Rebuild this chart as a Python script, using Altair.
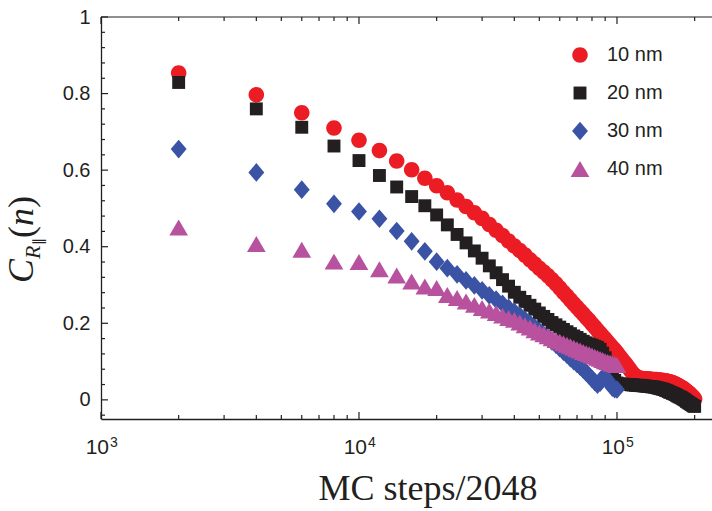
import altair as alt
import pandas as pd

# ---------------- data ----------------
steps = list(range(2000, 200001, 2000))          # MC steps/2048 sample grid

c10 = [0.854, 0.797, 0.750, 0.710, 0.678, 0.651, 0.624, 0.601, 0.579, 0.559,
       0.541, 0.522, 0.505, 0.489, 0.474, 0.458, 0.443, 0.429, 0.415, 0.402,
       0.390, 0.378, 0.366, 0.355, 0.344, 0.334, 0.324, 0.314, 0.303, 0.292,
       0.281, 0.271, 0.261, 0.251, 0.242, 0.233, 0.224, 0.215, 0.207, 0.198,
       0.190, 0.182, 0.174, 0.166, 0.159, 0.151, 0.144, 0.137, 0.130, 0.123,
       0.115, 0.108, 0.101, 0.094, 0.087, 0.080, 0.073, 0.066, 0.062, 0.059,
       0.057, 0.056, 0.056, 0.055, 0.055, 0.055, 0.054, 0.054, 0.053, 0.053,
       0.053, 0.052, 0.052, 0.051, 0.051, 0.050, 0.050, 0.049, 0.048, 0.047,
       0.046, 0.045, 0.043, 0.042, 0.040, 0.038, 0.036, 0.034, 0.032, 0.030,
       0.028, 0.025, 0.023, 0.020, 0.018, 0.015, 0.012, 0.009, 0.006, 0.002]

c20 = [0.829, 0.760, 0.712, 0.663, 0.625, 0.586, 0.556, 0.531, 0.507, 0.483,
       0.457, 0.432, 0.410, 0.389, 0.370, 0.350, 0.332, 0.314, 0.297, 0.281,
       0.268, 0.257, 0.247, 0.237, 0.227, 0.218, 0.210, 0.202, 0.196, 0.190,
       0.184, 0.178, 0.173, 0.167, 0.163, 0.158, 0.153, 0.149, 0.146, 0.143,
       0.140, 0.137, 0.132, 0.122, 0.110, 0.095, 0.080, 0.064, 0.051, 0.044,
       0.042, 0.041, 0.041, 0.040, 0.040, 0.040, 0.039, 0.039, 0.038, 0.038,
       0.038, 0.037, 0.037, 0.036, 0.036, 0.035, 0.035, 0.034, 0.034, 0.033,
       0.032, 0.031, 0.030, 0.029, 0.028, 0.027, 0.025, 0.024, 0.022, 0.020,
       0.019, 0.017, 0.016, 0.014, 0.012, 0.010, 0.008, 0.007, 0.005, 0.003,
       0.001, -0.001, -0.004, -0.006, -0.008, -0.010, -0.012, -0.014, -0.016, -0.017]

c30 = [0.655, 0.594, 0.549, 0.512, 0.492, 0.473, 0.441, 0.414, 0.388, 0.361,
       0.344, 0.328, 0.312, 0.299, 0.286, 0.273, 0.262, 0.251, 0.240, 0.230,
       0.220, 0.209, 0.199, 0.189, 0.179, 0.170, 0.162, 0.153, 0.144, 0.135,
       0.126, 0.118, 0.109, 0.101, 0.094, 0.087, 0.079, 0.071, 0.063, 0.055,
       0.047, 0.040, 0.045, 0.058, 0.060, 0.052, 0.042, 0.032, 0.028, 0.027]

c40 = [0.450, 0.407, 0.392, 0.361, 0.360, 0.341, 0.325, 0.309, 0.296, 0.292,
       0.274, 0.266, 0.257, 0.248, 0.240, 0.233, 0.227, 0.220, 0.214, 0.209,
       0.202, 0.195, 0.189, 0.182, 0.176, 0.171, 0.166, 0.161, 0.156, 0.152,
       0.148, 0.144, 0.140, 0.136, 0.132, 0.129, 0.125, 0.122, 0.119, 0.116,
       0.113, 0.110, 0.107, 0.104, 0.101, 0.099, 0.097, 0.095, 0.093, 0.091]

series_names = ["10 nm", "20 nm", "30 nm", "40 nm"]
series_values = [c10, c20, c30, c40]
series_colors = ["#ec1c24", "#231f20", "#3a53a4", "#b8519e"]

x_range = [1000, 233500]
x_major = [1000, 10000, 100000]
x_exp = ["3", "4", "5"]
x_minor = [2000, 3000, 4000, 5000, 6000, 7000, 8000, 9000,
           20000, 30000, 40000, 50000, 60000, 70000, 80000, 90000, 200000]
y_range = [-0.05, 1.0]
y_major = [0, 0.2, 0.4, 0.6, 0.8, 1.0]
y_minor = [-0.04, 0.04, 0.08, 0.12, 0.16, 0.24, 0.28, 0.32, 0.36, 0.44, 0.48,
           0.52, 0.56, 0.64, 0.68, 0.72, 0.76, 0.84, 0.88, 0.92, 0.96]

# ---------------- build tables ----------------
rows = []
for name, vals in zip(series_names, series_values):
    for n, v in zip(steps, vals):
        rows.append({"n": n, "c": v, "series": name})
df = pd.DataFrame(rows)

W, H = 611, 402
INK = "#231f20"
SANS = "Liberation Sans"
SERIF = "Liberation Serif"

xs = alt.Scale(type="log", domain=x_range, nice=False)
ys = alt.Scale(domain=y_range, nice=False)

# frame segments (top edge + inward ticks) as one table of line segments;
# tick lengths converted from pixels (7 major, 4 minor) into axis units
px_per_unit_y = H / (y_range[1] - y_range[0])
px_per_decade = W / (pd.Series(x_range).apply(lambda v: len(str(int(v))) - 1).iloc[0] * 0 + 2.3683)
seg = []
for vals, L in ((x_major, 7), (x_minor, 4)):
    dy = L / px_per_unit_y
    for v in vals:
        seg.append({"x1": v, "x2": v, "y1": y_range[0], "y2": y_range[0] + dy})
        seg.append({"x1": v, "x2": v, "y1": y_range[1], "y2": y_range[1] - dy})
for vals, L in ((y_major, 7), (y_minor, 4)):
    fx = 10 ** (L / px_per_decade)
    for v in vals:
        seg.append({"x1": x_range[0], "x2": x_range[0] * fx, "y1": v, "y2": v})
seg.append({"x1": x_range[0], "x2": x_range[1], "y1": y_range[1], "y2": y_range[1]})
frame_df = pd.DataFrame(seg)

frame = alt.Chart(frame_df).mark_rule(color=INK, strokeWidth=1.2).encode(
    x=alt.X("x1:Q", scale=xs), x2="x2:Q",
    y=alt.Y("y1:Q", scale=ys), y2="y2:Q")

shape_paths = [
    "M0.83,0A0.83,0.83,0,1,1,-0.83,0A0.83,0.83,0,1,1,0.83,0Z",
    "M-0.69,-0.69L0.69,-0.69L0.69,0.69L-0.69,0.69Z",
    "M0,-1L0.85,0L0,1L-0.85,0Z",
    "M0,-0.85L1,0.85L-1,0.85Z",
]

legend = alt.Legend(title=None, orient="none", legendX=469, legendY=28,
                    symbolSize=350, symbolStrokeWidth=0, symbolOpacity=1,
                    labelFont=SANS, labelFontSize=20, labelColor=INK,
                    labelOffset=17, rowPadding=18, padding=0)

points = alt.Chart(df).mark_point(filled=True, opacity=1, size=350, strokeWidth=0).encode(
    x=alt.X("n:Q", scale=xs,
            axis=alt.Axis(labels=False, ticks=False, grid=False, domain=True,
                          domainColor=INK, domainWidth=1.3, title=None)),
    y=alt.Y("c:Q", scale=ys,
            axis=alt.Axis(values=y_major, format="~g", ticks=False, grid=False,
                          domain=True, domainColor=INK, domainWidth=1.3,
                          labelFont=SANS, labelFontSize=20, labelColor=INK,
                          labelPadding=11, title=None)),
    color=alt.Color("series:N", scale=alt.Scale(domain=series_names, range=series_colors),
                    legend=legend),
    shape=alt.Shape("series:N", scale=alt.Scale(domain=series_names, range=shape_paths),
                    legend=legend),
)

one = pd.DataFrame({"a": [0]})
xmaj = pd.DataFrame({"v": x_major, "e": x_exp})

# ---------------- x tick labels 10^k ----------------
xlab_base = alt.Chart(xmaj).mark_text(text="10", font=SANS, fontSize=21, color=INK,
                                      align="right", baseline="alphabetic", dx=8).encode(
    x=alt.X("v:Q", scale=xs), y=alt.value(437))
xlab_exp = alt.Chart(xmaj).mark_text(font=SANS, fontSize=14, color=INK,
                                     align="left", baseline="alphabetic", dx=9).encode(
    x=alt.X("v:Q", scale=xs), y=alt.value(430), text="e:N")

# ---------------- axis titles ----------------
def txt(s, x, y, size, style="normal", angle=0, align="left", font=SERIF):
    return alt.Chart(one).mark_text(text=s, font=font, fontSize=size, fontStyle=style,
                                    color=INK, align=align, baseline="alphabetic",
                                    angle=angle).encode(x=alt.value(x), y=alt.value(y))

xtitle = txt("MC steps/2048", 327, 483, 36, align="center")
ytitle = (txt("C", -68, 266, 36, "italic", 270)
          + txt("R", -61, 242, 22, "italic", 270)
          + txt("\u2225", -58, 228, 14, "normal", 270)
          + txt("(", -68, 221, 36, "normal", 270)
          + txt("n", -68, 209, 36, "italic", 270)
          + txt(")", -68, 191, 36, "normal", 270))

chart = alt.layer(
    frame, points,
    xlab_base, xlab_exp, xtitle, ytitle,
).properties(
    width=W, height=H,
    autosize=alt.AutoSizeParams(type="none"),
    padding={"left": 101, "top": 17, "right": 0, "bottom": 92},
).configure_view(stroke=None)

chart.save("out.html", embed_options={"renderer": "svg", "actions": False})
